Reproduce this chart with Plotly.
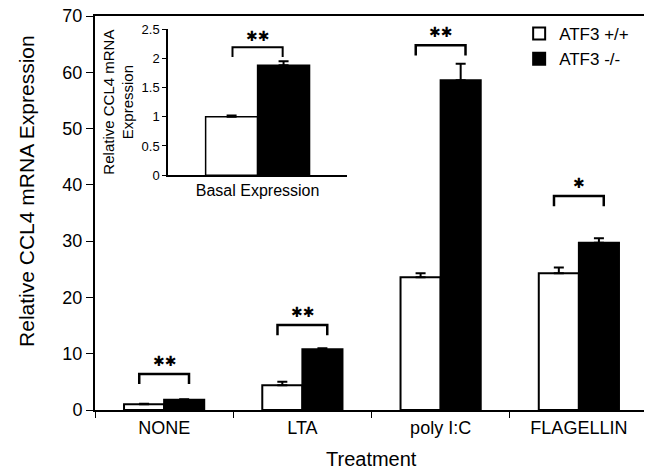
import plotly.graph_objects as go

# ---- data ----
categories = ["NONE", "LTA", "poly I:C", "FLAGELLIN"]
wt_values = [1.0, 4.4, 23.6, 24.3]
wt_err = [0.1, 0.6, 0.7, 1.0]
ko_values = [1.8, 10.8, 58.6, 29.7]
ko_err = [0.1, 0.15, 2.9, 0.8]
significance = ["**", "**", "**", "*"]
bracket_levels = [6.4, 15.1, 64.8, 38.0]

inset_category = ["Basal Expression"]
inset_wt = [1.0]
inset_wt_err = [0.02]
inset_ko = [1.88]
inset_ko_err = [0.07]
inset_sig = "**"
inset_bracket_level = 2.19

series_names = ["ATF3 +/+", "ATF3 -/-"]

FONT = "Liberation Sans, Arial, sans-serif"
STAR_FONT = "DejaVu Sans"

fig = go.Figure()

def err(arr):
    return dict(type="data", array=arr, arrayminus=[0] * len(arr), symmetric=False,
                color="black", thickness=2, width=5)

fig.add_trace(go.Bar(x=categories, y=wt_values, name=series_names[0],
                     marker=dict(color="white", line=dict(color="black", width=2)),
                     error_y=err(wt_err)))
fig.add_trace(go.Bar(x=categories, y=ko_values, name=series_names[1],
                     marker=dict(color="black", line=dict(color="black", width=2)),
                     error_y=err(ko_err)))

fig.add_trace(go.Bar(x=inset_category, y=inset_wt, showlegend=False,
                     marker=dict(color="white", line=dict(color="black", width=1.5)),
                     error_y=err(inset_wt_err), xaxis="x2", yaxis="y2"))
fig.add_trace(go.Bar(x=inset_category, y=inset_ko, showlegend=False,
                     marker=dict(color="black", line=dict(color="black", width=1.5)),
                     error_y=err(inset_ko_err), xaxis="x2", yaxis="y2"))

def stars(s):
    return "\u2731" * len(s)

shapes = []
annotations = []
half = 0.18
for i, (lvl, s) in enumerate(zip(bracket_levels, significance)):
    leg = 1.8
    shapes.append(dict(type="path", xref="x", yref="y",
                       path=f"M {i - half} {lvl - leg} L {i - half} {lvl} L {i + half} {lvl} L {i + half} {lvl - leg}",
                       line=dict(color="black", width=2.5)))
    annotations.append(dict(x=i, y=lvl + 0.5, xref="x", yref="y", text=stars(s),
                            showarrow=False, yanchor="bottom",
                            font=dict(family=STAR_FONT, size=14, color="black")))

ihalf = 0.14
ileg = 0.17
shapes.append(dict(type="path", xref="x2", yref="y2",
                   path=f"M {-ihalf} {inset_bracket_level - ileg} L {-ihalf} {inset_bracket_level} L {ihalf} {inset_bracket_level} L {ihalf} {inset_bracket_level - ileg}",
                   line=dict(color="black", width=2)))
annotations.append(dict(x=0, y=inset_bracket_level + 0.02, xref="x2", yref="y2",
                        text=stars(inset_sig), showarrow=False, yanchor="bottom",
                        font=dict(family=STAR_FONT, size=14, color="black")))

# axis titles placed as annotations
annotations.append(dict(text="Relative CCL4 mRNA Expression", xref="paper", yref="paper",
                        x=-0.123, y=0.556, textangle=-90, showarrow=False,
                        xanchor="center", yanchor="middle", font=dict(size=21)))
annotations.append(dict(text="Treatment", xref="paper", yref="paper",
                        x=0.5, y=-0.125, showarrow=False,
                        xanchor="center", yanchor="middle", font=dict(size=20)))

# the page body has an 8px default margin, so the figure is 8px smaller
fig.update_layout(
    width=644, height=462,
    margin=dict(l=87, r=4, t=8, b=60, autoexpand=False),
    paper_bgcolor="white", plot_bgcolor="white",
    barmode="group", bargap=0.42, bargroupgap=0,
    font=dict(family=FONT, color="black"),
    xaxis=dict(domain=[0, 1], range=[-0.5, 3.5], showline=True, linecolor="black", linewidth=2,
               mirror=True, ticks="outside", tickson="boundaries", ticklen=6, tickcolor="black",
               tickwidth=1, tickfont=dict(size=18), automargin=False),
    yaxis=dict(domain=[0, 1], range=[0, 70], dtick=10, showline=True, linecolor="black",
               linewidth=2, mirror=True, ticks="outside", ticklen=7, tickcolor="black",
               tickfont=dict(size=18), showgrid=False, zeroline=False, automargin=False,
               ticklabeloverflow="allow"),
    xaxis2=dict(domain=[0.132, 0.456], anchor="y2", range=[-0.5, 0.5], showline=True,
                linecolor="black", linewidth=1.5, ticks="", tickfont=dict(size=16)),
    yaxis2=dict(domain=[0.596, 0.967], anchor="x2", range=[0, 2.5], dtick=0.5, showline=True,
                linecolor="black", linewidth=1.5, ticks="outside", ticklen=4, tickcolor="black",
                tickfont=dict(size=13), showgrid=False, zeroline=False,
                title=dict(text="Relative CCL4 mRNA<br>Expression", font=dict(size=15), standoff=4)),
    legend=dict(x=0.767, y=1.0, xanchor="left", yanchor="top", bgcolor="rgba(0,0,0,0)",
                font=dict(size=17), tracegroupgap=0, itemwidth=30),
    shapes=shapes, annotations=annotations,
)

fig.write_html("out.html")
